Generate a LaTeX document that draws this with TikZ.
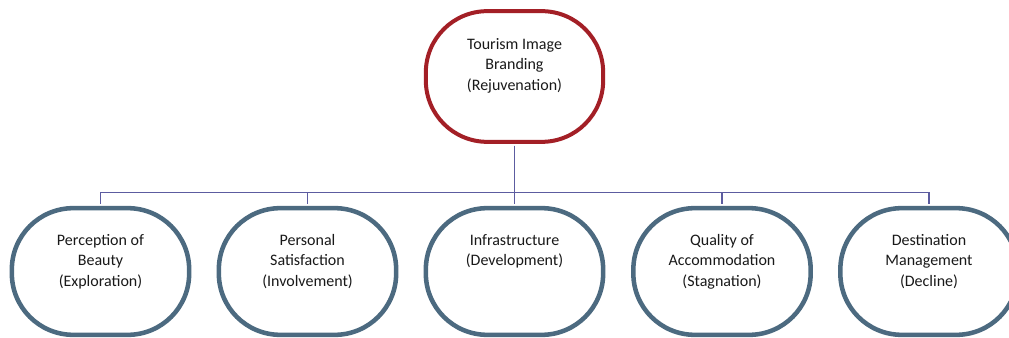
\documentclass[tikz,border=0pt]{standalone}
\usepackage{fontspec}
\setmainfont{Carlito}
\usetikzlibrary{positioning}
\definecolor{brandred}{RGB}{163,31,38}
\definecolor{stageblue}{RGB}{76,106,128}
\definecolor{linkblue}{RGB}{92,92,160}

\begin{document}
\begin{tikzpicture}[x=0.75pt, y=-0.75pt,
		box/.style={draw, rounded corners=46pt, minimum width=133pt, fill=white, inner sep=0pt},
		topbox/.style={box, draw=brandred, line width=3pt, minimum height=98pt},
		stagebox/.style={box, draw=stageblue, line width=3.4pt, minimum height=95pt},
		caption/.style={align=center, inner sep=0pt, font=\fontsize{12}{15.5}\selectfont, text=black!90},
		link/.style={draw=linkblue, line width=1.3pt, shorten <=1.5pt, shorten >=1.7pt}]
			%%%%% START %%%%%
			
			\useasboundingbox (0, 0) rectangle (1009, 338);
			
			% top of the tree
			\node[topbox] (brand) at (514.5, 76.5) {};
			\node[caption, below=21.5pt of brand.north] (brand-txt) {Tourism Image\\Branding\\(Rejuvenation)};
			
			% the five stages
			\node[stagebox] (beauty) at (100.5, 271.5) {};
			\node[stagebox] (satisfy) at (307.5, 271.5) {};
			\node[stagebox] (infra) at (514.5, 271.5) {};
			\node[stagebox] (accom) at (722, 271.5) {};
			\node[stagebox] (manage) at (929, 271.5) {};
			
			\node[caption, below=21pt of beauty.north] (beauty-txt) {Perception of\\Beauty\\(Exploration)};
			\node[caption, below=21pt of satisfy.north] (satisfy-txt) {Personal\\Satisfaction\\(Involvement)};
			\node[caption, below=21pt of infra.north] (infra-txt) {Infrastructure\\(Development)};
			\node[caption, below=21pt of accom.north] (accom-txt) {Quality of\\Accommodation\\(Stagnation)};
			\node[caption, below=21pt of manage.north] (manage-txt) {Destination\\Management\\(Decline)};
			
			% connectors
			\coordinate (bus) at (514.5, 192.5);
			\draw[link] (brand.south) -- (bus) -| (beauty.north);
			\draw[link] (brand.south) -- (bus) -| (satisfy.north);
			\draw[link] (brand.south) -- (bus) -| (infra.north);
			\draw[link] (brand.south) -- (bus) -| (accom.north);
			\draw[link] (brand.south) -- (bus) -| (manage.north);
			
			%%%%% END %%%%%
\end{tikzpicture}
\end{document}
